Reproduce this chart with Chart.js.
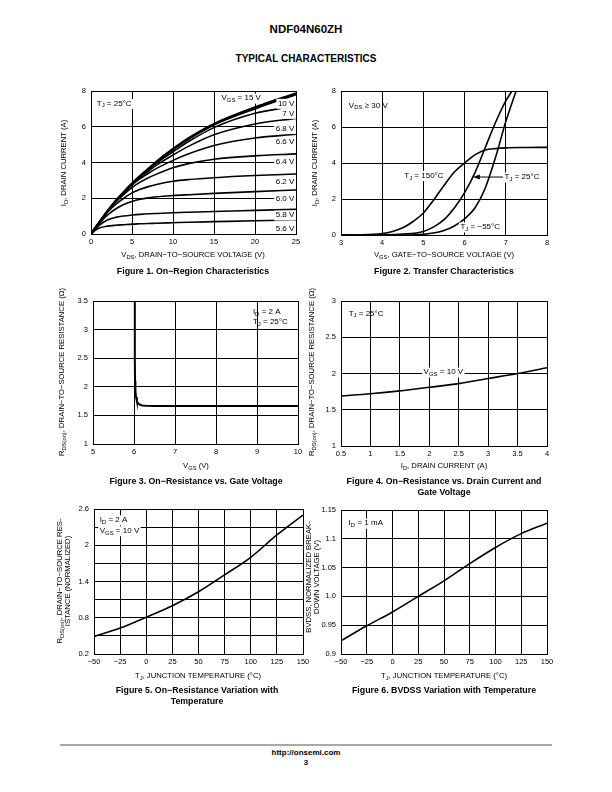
<!DOCTYPE html>
<html>
<head>
<meta charset="utf-8">
<script src="https://cdn.jsdelivr.net/npm/chart.js@4.4.0/dist/chart.umd.min.js"></script>
<style>
body{margin:0;background:#fff;}
#page{position:relative;width:612px;height:792px;font-family:"Liberation Sans",Arial,sans-serif;color:#000;overflow:hidden;}
.t{position:absolute;white-space:nowrap;transform:translate(-50%,-50%);}
.yt{transform:translate(-50%,-50%) rotate(-90deg);text-align:center;line-height:8px;}
.ax{font-size:7.7px;}
.cap{font-size:8.8px;font-weight:bold;text-align:center;line-height:11px;}
.b{font-weight:bold;}
sub{font-size:.75em;vertical-align:baseline;position:relative;top:.3em;line-height:0;}
canvas{position:absolute;}
</style>
</head>
<body>
<div id="page">
  <div class="t b" style="left:306px;top:29px;font-size:11.5px">NDF04N60ZH</div>
  <div class="t b" style="left:306px;top:58px;font-size:10px">TYPICAL CHARACTERISTICS</div>

  <canvas id="c1"></canvas>
  <canvas id="c2"></canvas>
  <canvas id="c3"></canvas>
  <canvas id="c4"></canvas>
  <canvas id="c5"></canvas>
  <canvas id="c6"></canvas>

  <div class="t ax yt" style="left:64px;top:163px">I<sub>D</sub>, DRAIN CURRENT (A)</div>
  <div class="t ax" style="left:193px;top:254px">V<sub>DS</sub>, DRAIN−TO−SOURCE VOLTAGE (V)</div>
  <div class="t cap" style="left:193px;top:271px">Figure 1. On−Region Characteristics</div>

  <div class="t ax yt" style="left:315px;top:163px">I<sub>D</sub>, DRAIN CURRENT (A)</div>
  <div class="t ax" style="left:444px;top:254px">V<sub>GS</sub>, GATE−TO−SOURCE VOLTAGE (V)</div>
  <div class="t cap" style="left:444px;top:271px">Figure 2. Transfer Characteristics</div>

  <div class="t ax yt" style="left:62px;top:372px">R<sub>DS(on)</sub>, DRAIN−TO−SOURCE RESISTANCE (Ω)</div>
  <div class="t ax" style="left:196px;top:465px">V<sub>GS</sub> (V)</div>
  <div class="t cap" style="left:196px;top:481px">Figure 3. On−Resistance vs. Gate Voltage</div>

  <div class="t ax yt" style="left:312px;top:372px">R<sub>DS(on)</sub>, DRAIN−TO−SOURCE RESISTANCE (Ω)</div>
  <div class="t ax" style="left:444px;top:465px">I<sub>D</sub>, DRAIN CURRENT (A)</div>
  <div class="t cap" style="left:444px;top:487px">Figure 4. On−Resistance vs. Drain Current and<br>Gate Voltage</div>

  <div class="t ax yt" style="left:64px;top:581px">R<sub>DS(on)</sub>, DRAIN−TO−SOURCE RES-<br>ISTANCE (NORMALIZED)</div>
  <div class="t ax" style="left:198px;top:675px">T<sub>J</sub>, JUNCTION TEMPERATURE (°C)</div>
  <div class="t cap" style="left:197px;top:696px">Figure 5. On−Resistance Variation with<br>Temperature</div>

  <div class="t ax yt" style="left:313px;top:577px">BVDSS, NORMALIZED BREAK-<br>DOWN VOLTAGE (V)</div>
  <div class="t ax" style="left:444px;top:675px">T<sub>J</sub>, JUNCTION TEMPERATURE (°C)</div>
  <div class="t cap" style="left:444px;top:690px">Figure 6. BVDSS Variation with Temperature</div>

  <div style="position:absolute;left:60px;top:744px;width:492px;height:2px;background:#a8a8a8"></div>
  <div class="t b" style="left:306px;top:752px;font-size:8px">http://onsemi.com</div>
  <div class="t b" style="left:306px;top:762px;font-size:8px">3</div>
</div>

<script>
// ---- Figure 1: On-region characteristics ----
const vds1 = [0, 0.5, 1, 2, 3, 4, 5, 6, 7, 8, 10, 12, 15, 20, 25];
const id15V  = [0, 0.33, 0.65, 1.28, 1.85, 2.35, 2.82, 3.25, 3.65, 4.05, 4.75, 5.38, 6.15, 7.08, 7.87];
const id10V  = [0, 0.33, 0.65, 1.28, 1.85, 2.35, 2.82, 3.25, 3.64, 4.03, 4.72, 5.33, 6.1, 7.0, 7.8];
const id7V   = [0, 0.33, 0.65, 1.28, 1.84, 2.33, 2.8, 3.22, 3.6, 3.97, 4.6, 5.2, 5.95, 6.75, 7.17];
const id68V  = [0, 0.33, 0.65, 1.27, 1.83, 2.32, 2.78, 3.18, 3.52, 3.85, 4.42, 4.93, 5.55, 6.15, 6.47];
const id66V  = [0, 0.33, 0.65, 1.27, 1.82, 2.3, 2.74, 3.1, 3.4, 3.67, 4.12, 4.5, 4.95, 5.37, 5.58];
const id64V  = [0, 0.33, 0.64, 1.25, 1.78, 2.22, 2.6, 2.9, 3.15, 3.35, 3.7, 3.95, 4.18, 4.37, 4.48];
const id62V  = [0, 0.32, 0.63, 1.2, 1.65, 2.0, 2.3, 2.5, 2.65, 2.77, 2.95, 3.05, 3.15, 3.27, 3.36];
const id60V  = [0, 0.3, 0.58, 1.05, 1.4, 1.65, 1.82, 1.94, 2.02, 2.08, 2.15, 2.2, 2.27, 2.37, 2.46];
const id58V  = [0, 0.27, 0.48, 0.78, 0.93, 1.01, 1.06, 1.1, 1.13, 1.15, 1.19, 1.22, 1.26, 1.32, 1.38];
const id56V  = [0, 0.2, 0.33, 0.44, 0.49, 0.52, 0.55, 0.57, 0.59, 0.6, 0.63, 0.66, 0.69, 0.74, 0.78];
const vgsLabels1 = ['10 V', '7 V', '6.8 V', '6.6 V', '6.4 V', '6.2 V', '6.0 V', '5.8 V', '5.6 V'];
const vgsLabelY1 = [7.31, 6.75, 5.9, 5.17, 4.05, 2.93, 1.99, 1.06, 0.31];
const xTicks1 = [0, 5, 10, 15, 20, 25];
const yTicks1 = [0, 2, 4, 6, 8];

// ---- Figure 2: Transfer characteristics ----
const vgs150 = [3, 3.5, 4, 4.25, 4.5, 4.75, 5, 5.25, 5.5, 5.75, 6, 6.25, 6.5, 6.75, 7, 7.5, 8];
const id150  = [0, 0.01, 0.08, 0.2, 0.4, 0.75, 1.22, 1.95, 2.75, 3.5, 4.0, 4.45, 4.72, 4.8, 4.84, 4.86, 4.87];
const vgs25  = [3, 4, 4.5, 5, 5.25, 5.5, 5.75, 6, 6.25, 6.5, 6.75, 7, 7.15];
const id25   = [0, 0.01, 0.05, 0.2, 0.45, 0.85, 1.5, 2.35, 3.45, 4.85, 6.25, 7.45, 8.0];
const vgsM55 = [3, 4.5, 5, 5.5, 5.75, 6, 6.25, 6.5, 6.75, 7, 7.25];
const idM55  = [0, 0, 0.04, 0.25, 0.5, 0.9, 1.5, 2.6, 4.3, 6.3, 8.0];
const xTicks2 = [3, 4, 5, 6, 7, 8];
const yTicks2 = [0, 2, 4, 6, 8];

// ---- Figure 3: RDS(on) vs VGS ----
const vgs3 = [6.02, 6.02, 6.025, 6.035, 6.05, 6.07, 6.1, 6.15, 6.2, 6.3, 6.5, 7, 8, 9, 10];
const rds3 = [3.5, 2.5, 2.1, 1.92, 1.82, 1.75, 1.71, 1.685, 1.675, 1.668, 1.665, 1.665, 1.665, 1.665, 1.665];
const xTicks3 = [5, 6, 7, 8, 9, 10];
const yTicks3 = [1, 1.5, 2, 2.5, 3, 3.5];

// ---- Figure 4: RDS(on) vs ID ----
const id4  = [0.5, 1, 1.5, 2, 2.5, 3, 3.5, 4];
const rds4 = [1.69, 1.72, 1.76, 1.81, 1.86, 1.93, 2.0, 2.08];
const xTicks4 = [0.5, 1, 1.5, 2, 2.5, 3, 3.5, 4];
const yTicks4 = [1, 1.5, 2, 2.5, 3];

// ---- Figure 5: normalized RDS(on) vs TJ ----
const tj  = [-50, -25, 0, 25, 50, 75, 100, 125, 150];
const rdsNorm = [0.49, 0.63, 0.81, 1.0, 1.23, 1.51, 1.8, 2.17, 2.5];
const tjTicks = [-50, -25, 0, 25, 50, 75, 100, 125, 150];
const tjLabels = ['−50', '−25', '0', '25', '50', '75', '100', '125', '150'];
const yTicks5 = [0.2, 0.5, 0.8, 1.1, 1.4, 1.7, 2.0, 2.3, 2.6];
const yLabels5 = ['0.2', '', '0.8', '', '1.4', '', '2', '', '2.6'];

// ---- Figure 6: BVDSS vs TJ ----
const bvdss = [0.923, 0.949, 0.973, 1.0, 1.027, 1.057, 1.085, 1.109, 1.127];
const yTicks6 = [0.9, 0.95, 1.0, 1.05, 1.1, 1.15];
const yLabels6 = ['0.9', '0.95', '1.0', '1.05', '1.1', '1.15'];

const FONT = '"Liberation Sans", Arial, sans-serif';
const M = {l: 40, t: 8, r: 14, b: 18};

function drawRich(ctx, x, y, parts, align, bg) {
  const fs = 8, ss = 6;
  const segs = parts.map(p => Array.isArray(p) ? {t: p[0], sub: true} : {t: p, sub: false});
  let w = 0;
  segs.forEach(s => {
    ctx.font = (s.sub ? ss : fs) + 'px ' + FONT;
    s.w = ctx.measureText(s.t).width;
    w += s.w;
  });
  let sx = align === 'right' ? x - w : align === 'center' ? x - w / 2 : x;
  if (bg) {
    ctx.fillStyle = '#fff';
    ctx.fillRect(sx - 1.5, y - 4.5, w + 3, 10);
  }
  ctx.fillStyle = '#000';
  ctx.textAlign = 'left';
  ctx.textBaseline = 'middle';
  segs.forEach(s => {
    ctx.font = (s.sub ? ss : fs) + 'px ' + FONT;
    ctx.fillText(s.t, sx, y + (s.sub ? 2.3 : 0));
    sx += s.w;
  });
}

const notesPlugin = {
  id: 'notes',
  afterDatasetsDraw(chart, args, opts) {
    const ctx = chart.ctx, xs = chart.scales.x, ys = chart.scales.y;
    ctx.save();
    (opts.arrows || []).forEach(a => {
      const x0 = xs.getPixelForValue(a.from[0]), y0 = ys.getPixelForValue(a.from[1]);
      const x1 = xs.getPixelForValue(a.to[0]), y1 = ys.getPixelForValue(a.to[1]);
      ctx.strokeStyle = '#000'; ctx.lineWidth = 1;
      ctx.beginPath(); ctx.moveTo(x0, y0); ctx.lineTo(x1 + 5, y1); ctx.stroke();
      ctx.fillStyle = '#000';
      ctx.beginPath(); ctx.moveTo(x1, y1); ctx.lineTo(x1 + 7, y1 - 2.5); ctx.lineTo(x1 + 7, y1 + 2.5); ctx.closePath(); ctx.fill();
    });
    (opts.items || []).forEach(n => {
      drawRich(ctx, xs.getPixelForValue(n.x), ys.getPixelForValue(n.y), n.parts, n.align || 'left', n.bg);
    });
    ctx.restore();
  }
};

function axis(pos, min, max, vals, labels) {
  return {
    type: 'linear', position: pos, min: min, max: max,
    afterBuildTicks: s => { s.ticks = vals.map(v => ({value: v})); },
    afterFit: s => {
      if (pos === 'left') s.width = M.l; else s.height = M.b;
      s.paddingLeft = 0; s.paddingRight = 0; s.paddingTop = 0; s.paddingBottom = 0;
    },
    grid: {color: '#000', lineWidth: 1, drawTicks: false},
    border: {color: '#000', width: 1},
    ticks: {
      color: '#000', font: {family: FONT, size: 7.5}, padding: pos === 'left' ? 5 : 3,
      maxRotation: 0, autoSkip: false,
      callback: (v, i) => labels ? labels[i] : String(vals[i])
    }
  };
}

function pts(xs, ys) { return xs.map((x, i) => ({x: x, y: ys[i]})); }

function line(xs, ys, w, mode) {
  return {
    data: pts(xs, ys), borderColor: '#000', borderWidth: w || 1.6,
    pointRadius: 0, fill: false,
    cubicInterpolationMode: mode === 'straight' ? 'default' : 'monotone',
    tension: 0
  };
}

function makeChart(id, box, datasets, scales, notes) {
  const cv = document.getElementById(id);
  cv.width = box.w + M.l + M.r;
  cv.height = box.h + M.t + M.b;
  cv.style.left = (box.x - M.l) + 'px';
  cv.style.top = (box.y - M.t) + 'px';
  return new Chart(cv.getContext('2d'), {
    type: 'line',
    data: {datasets: datasets},
    options: {
      responsive: false, animation: false,
      layout: {padding: {left: 0, top: M.t, right: M.r, bottom: 0}},
      scales: scales,
      plugins: {legend: {display: false}, tooltip: {enabled: false}, notes: notes || {}}
    },
    plugins: [notesPlugin]
  });
}

// Figure 1
const fig1Series = [id56V, id58V, id60V, id62V, id64V, id66V, id68V, id7V, id10V];
makeChart('c1', {x: 91, y: 91, w: 205, h: 143},
  fig1Series.map(s => line(vds1, s, 1.6)).concat([line(vds1, id15V, 2.4)]),
  {x: axis('bottom', 0, 25, xTicks1), y: axis('left', 0, 8, yTicks1)},
  {items: [
    {x: 0.7, y: 7.3, parts: ['T', ['J'], ' = 25°C'], bg: true},
    {x: 15.9, y: 7.6, parts: ['V', ['GS'], ' = 15 V'], bg: true}
  ].concat(vgsLabels1.map((t, i) => ({x: 24.8, y: vgsLabelY1[i], parts: [t], align: 'right', bg: true})))}
);

// Figure 2
makeChart('c2', {x: 341, y: 91, w: 206, h: 144},
  [line(vgs150, id150), line(vgs25, id25), line(vgsM55, idM55)],
  {x: axis('bottom', 3, 8, xTicks2), y: axis('left', 0, 8, yTicks2)},
  {
    arrows: [{from: [6.95, 3.22], to: [6.2, 3.22]}],
    items: [
      {x: 3.19, y: 7.2, parts: ['V', ['DS'], ' ≥ 30 V']},
      {x: 5.49, y: 3.3, parts: ['T', ['J'], ' = 150°C'], align: 'right', bg: true},
      {x: 6.97, y: 3.22, parts: ['T', ['J'], ' = 25°C'], bg: true},
      {x: 5.9, y: 0.45, parts: ['T', ['J'], ' = −55°C'], bg: true}
    ]
  }
);

// Figure 3
makeChart('c3', {x: 93, y: 301, w: 205, h: 143},
  [line(vgs3, rds3, 2, 'straight')],
  {x: axis('bottom', 5, 10, xTicks3), y: axis('left', 1, 3.5, yTicks3)},
  {items: [
    {x: 8.9, y: 3.31, parts: ['I', ['D'], ' = 2 A']},
    {x: 8.9, y: 3.14, parts: ['T', ['J'], ' = 25°C']}
  ]}
);

// Figure 4
makeChart('c4', {x: 341, y: 301, w: 206, h: 145},
  [line(id4, rds4)],
  {x: axis('bottom', 0.5, 4, xTicks4), y: axis('left', 1, 3, yTicks4)},
  {items: [
    {x: 0.63, y: 2.83, parts: ['T', ['J'], ' = 25°C']},
    {x: 2.24, y: 2.02, parts: ['V', ['GS'], ' = 10 V'], align: 'center', bg: true}
  ]}
);

// Figure 5
makeChart('c5', {x: 94, y: 509, w: 209, h: 145},
  [line(tj, rdsNorm)],
  {x: axis('bottom', -50, 150, tjTicks, tjLabels), y: axis('left', 0.2, 2.6, yTicks5, yLabels5)},
  {items: [
    {x: -44.6, y: 2.42, parts: ['I', ['D'], ' = 2 A'], bg: true},
    {x: -44.6, y: 2.24, parts: ['V', ['GS'], ' = 10 V'], bg: true}
  ]}
);

// Figure 6
makeChart('c6', {x: 341, y: 510, w: 206, h: 144},
  [line(tj, bvdss)],
  {x: axis('bottom', -50, 150, tjTicks, tjLabels), y: axis('left', 0.9, 1.15, yTicks6, yLabels6)},
  {items: [
    {x: -42.6, y: 1.127, parts: ['I', ['D'], ' = 1 mA'], bg: true}
  ]}
);
</script>
</body>
</html>
